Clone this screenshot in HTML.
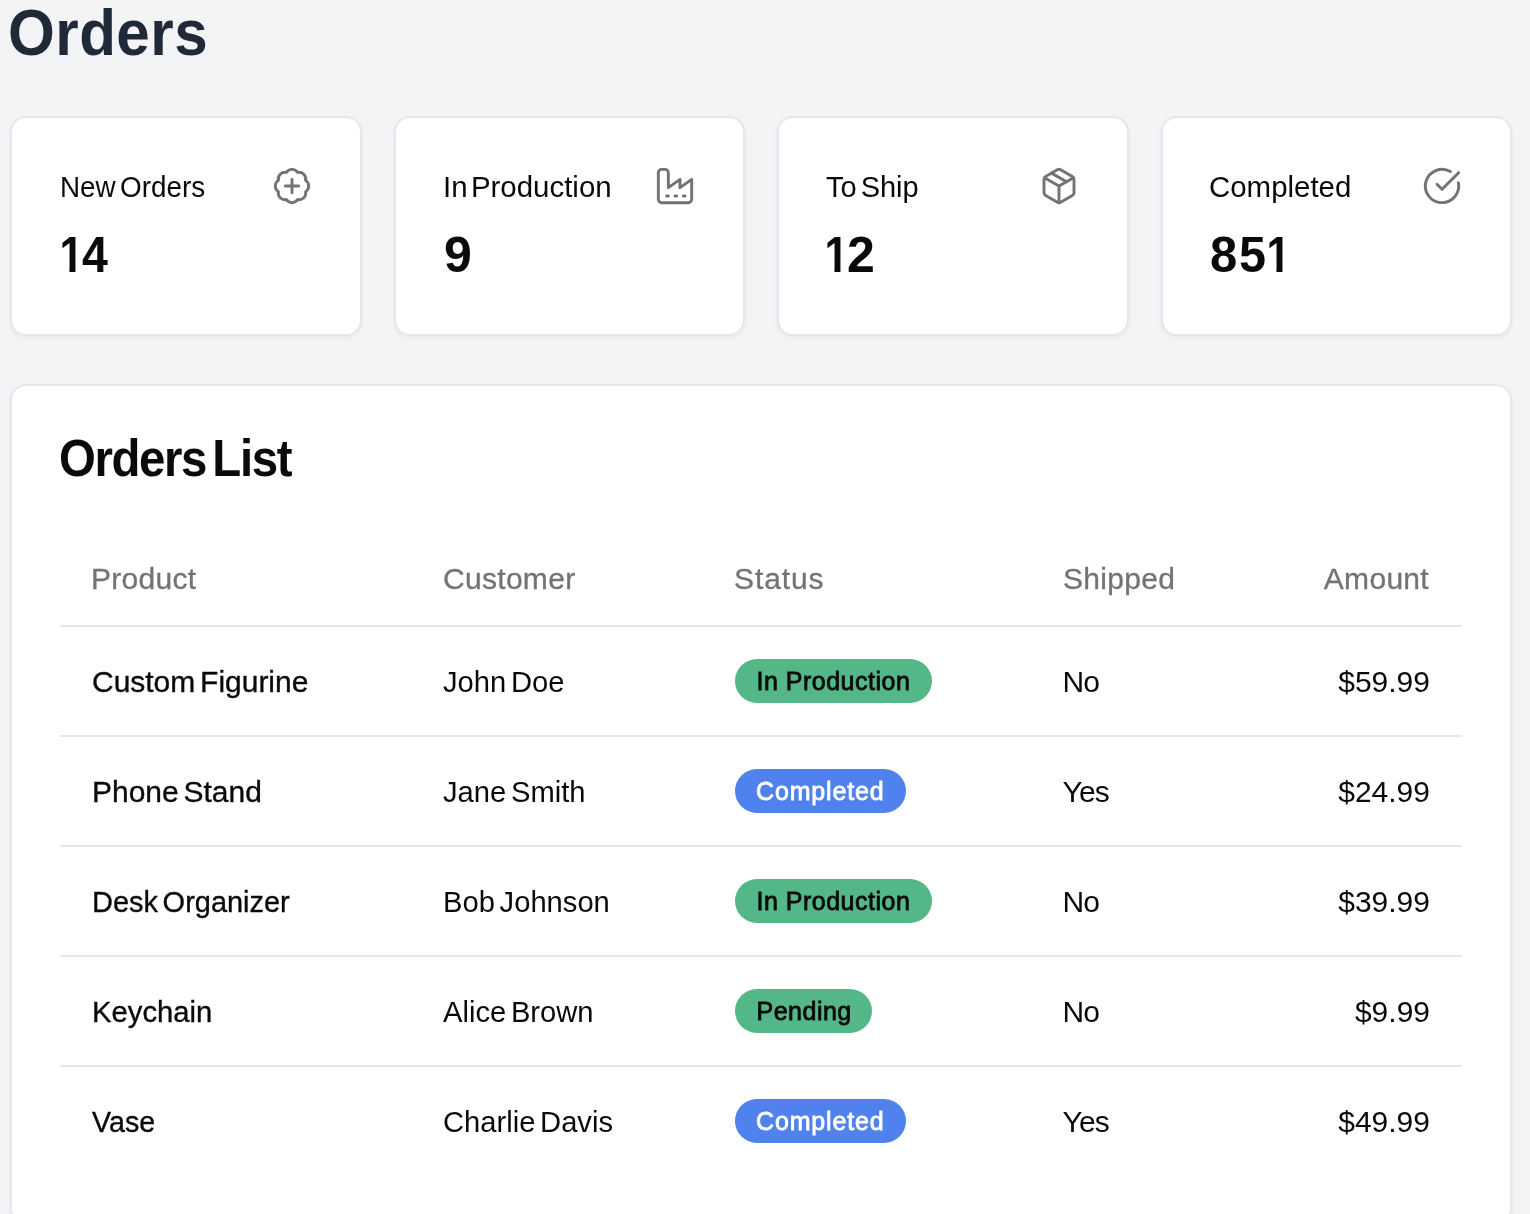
<!DOCTYPE html>
<html lang="en">
<head>
<meta charset="utf-8">
<title>Orders</title>
<style>
  html, body { margin: 0; padding: 0; }
  body {
    width: 1530px; height: 1214px; overflow: hidden;
    background: #f3f4f6;
    font-family: "Liberation Sans", Arial, sans-serif;
    color: #0a0a0a;
    position: relative;
  }
  h1 {
    position: absolute; left: 8.3px; top: -2.6px; margin: 0;
    font-size: 64px; line-height: 72px; font-weight: 700;
    color: #1f2937; letter-spacing: 0.5px; transform: scaleX(0.94); transform-origin: 0 0;
  }
  .stats { position: absolute; top: 116px; left: 0; width: 1530px; height: 220px; }
  .stat {
    position: absolute; top: 0; width: 347px; height: 216px;
    background: #fff; border: 2px solid #e5e7eb; border-radius: 16px;
    box-shadow: 0 2px 4px rgba(0,0,0,0.05);
    will-change: transform;
  }
  .stat .row { position: absolute; left: 48px; right: 48px; top: 48px; height: 40px; display: flex; align-items: center; justify-content: space-between; }
  .stat .label { font-size: 30px; line-height: 40px; letter-spacing: 0; color: #0a0a0a; position: relative; top: 0.5px; display: inline-block; transform-origin: 0 50%; white-space: nowrap; }
  .stat .icon { width: 40px; height: 40px; display: block; }
  .stat .num { position: absolute; left: 0; top: 0; width: 100%; height: 100%; font-weight: 700; color: #0a0a0a; }
  .stat .num span { position: absolute; top: 104.7px; font-size: 50px; line-height: 64px; transform-origin: 0 0; white-space: pre; }
  .stat .num span.one { clip-path: polygon(0 0, 100% 0, 100% 43.7px, 18.6px 43.7px, 18.6px 100%, 11.6px 100%, 11.6px 43.7px, 0 43.7px); transform: scaleX(0.86); transform-origin: 3.42px 0; }
  .list {
    position: absolute; left: 10px; top: 384px; width: 1498px; height: 836px;
    background: #fff; border: 2px solid #e5e7eb; border-radius: 16px;
    box-shadow: 0 2px 4px rgba(0,0,0,0.05);
    will-change: transform;
  }
  .list h2 {
    position: absolute; left: 47.3px; top: 40.1px; margin: 0;
    font-size: 51.5px; line-height: 64px; font-weight: 700; letter-spacing: -1.5px; word-spacing: -6px; color: #0a0a0a;
    transform: scaleX(0.92); transform-origin: 0 0;
  }
  table { position: absolute; left: 48px; top: 130px; width: 1402px; border-collapse: collapse; table-layout: fixed; }
  th { font-weight: 400; color: #737373; -webkit-text-stroke: 0.3px #737373; font-size: 30px; line-height: 40px; letter-spacing: 0.3px; text-align: left; padding: 0 32px 26px 31px; height: 110px; vertical-align: bottom; box-sizing: border-box; }
  td { font-size: 30px; line-height: 40px; padding: 2px 32px 0; height: 110px; border-top: 2px solid #e5e7eb; color: #0a0a0a; box-sizing: border-box; vertical-align: middle; }
  td .t { display: inline-block; transform-origin: 0 50%; white-space: nowrap; }
  td.p .t { transform: scaleX(0.975); -webkit-text-stroke: 0.35px #0a0a0a; word-spacing: -3.5px; }
  td.c .t { transform: scaleX(0.972); word-spacing: -3.5px; position: relative; left: -1px; }
  th.r, td.r { text-align: right; }
  tbody tr:last-child td { padding-top: 0; }
  td.s { letter-spacing: -0.8px; padding-left: 30.5px; }
  td.r { letter-spacing: 0; }
  .badge { display: inline-block; vertical-align: middle; height: 44px; line-height: 44px; padding: 0 0 0 21.5px; box-sizing: border-box; border-radius: 22px; font-size: 25px; font-weight: 400; letter-spacing: 0.5px; -webkit-text-stroke: 0.8px currentColor; position: relative; top: -1px; white-space: nowrap; }
  .w1 { width: 197px; } .w2 { width: 171px; padding-left: 21px; letter-spacing: 0.85px; } .w3 { width: 137px; }
  .g { background: #54b787; color: #0a0a0a; }
  .b { background: #4f82ed; color: #fff; }
</style>
</head>
<body>
  <h1>Orders</h1>
  <div class="stats">
    <div class="stat" style="left:10px;width:348px">
      <div class="row"><span class="label" style="transform:scaleX(0.928);word-spacing:-3.7px">New Orders</span>
        <svg class="icon" viewBox="0 0 24 24" fill="none" stroke="#737373" stroke-width="1.75" stroke-linecap="round" stroke-linejoin="round"><path d="M3.85 8.62a4 4 0 0 1 4.78-4.77 4 4 0 0 1 6.74 0 4 4 0 0 1 4.78 4.78 4 4 0 0 1 0 6.74 4 4 0 0 1-4.77 4.78 4 4 0 0 1-6.75 0 4 4 0 0 1-4.78-4.77 4 4 0 0 1 0-6.76Z"/><line x1="12" x2="12" y1="8" y2="16"/><line x1="8" x2="16" y1="12" y2="12"/></svg>
      </div>
      <div class="num"><span class="one" style="left:47px">1</span><span style="left:70.3px;transform:scaleX(0.93)">4</span></div>
          </div>
    <div class="stat" style="left:394px">
      <div class="row"><span class="label" style="transform:scaleX(0.981);word-spacing:-4.9px;left:-1.5px">In Production</span>
        <svg class="icon" viewBox="0 0 24 24" fill="none" stroke="#737373" stroke-width="1.75" stroke-linecap="round" stroke-linejoin="round"><path d="M2 20a2 2 0 0 0 2 2h16a2 2 0 0 0 2-2V8l-7 5V8l-7 5V4a2 2 0 0 0-2-2H4a2 2 0 0 0-2 2Z"/><path d="M17 18h1"/><path d="M12 18h1"/><path d="M7 18h1"/></svg>
      </div>
      <div class="num"><span style="left:48px">9</span></div>
          </div>
    <div class="stat" style="left:777px;width:348px">
      <div class="row"><span class="label" style="transform:scaleX(0.967);word-spacing:-4.2px;left:-1px">To Ship</span>
        <svg class="icon" viewBox="0 0 24 24" fill="none" stroke="#737373" stroke-width="1.75" stroke-linecap="round" stroke-linejoin="round"><path d="m7.5 4.27 9 5.15"/><path d="M21 8a2 2 0 0 0-1-1.73l-7-4a2 2 0 0 0-2 0l-7 4A2 2 0 0 0 3 8v8a2 2 0 0 0 1 1.73l7 4a2 2 0 0 0 2 0l7-4A2 2 0 0 0 21 16Z"/><path d="m3.3 7 8.7 5 8.7-5"/><path d="M12 22V12"/></svg>
      </div>
      <div class="num"><span class="one" style="left:45.3px">1</span><span style="left:67.9px">2</span></div>
          </div>
    <div class="stat" style="left:1161px;width:347px">
      <div class="row"><span class="label" style="transform:scaleX(0.981);left:-2px">Completed</span>
        <svg class="icon" viewBox="0 0 24 24" fill="none" stroke="#737373" stroke-width="1.75" stroke-linecap="round" stroke-linejoin="round"><path d="M21.801 10A10 10 0 1 1 17 3.335"/><path d="m9 11 3 3L22 4"/></svg>
      </div>
      <div class="num"><span style="left:47.3px;transform:scaleX(0.98)">8</span><span style="left:76.3px;transform:scaleX(0.97)">5</span><span class="one" style="left:102.6px">1</span></div>
          </div>
  </div>

  <div class="list">
    <h2>Orders List</h2>
    <table>
      <colgroup><col style="width:352px"><col style="width:291px"><col style="width:329px"><col style="width:200px"><col></colgroup>
      <thead>
        <tr><th>Product</th><th>Customer</th><th style="letter-spacing:0.9px">Status</th><th>Shipped</th><th class="r" style="padding-right:33px">Amount</th></tr>
      </thead>
      <tbody>
        <tr><td class="p"><span class="t" style="transform:scaleX(0.999)">Custom Figurine</span></td><td class="c"><span class="t">John Doe</span></td><td><span class="badge g w1">In Production</span></td><td class="s">No</td><td class="r">$59.99</td></tr>
        <tr><td class="p"><span class="t" style="transform:scaleX(0.999)">Phone Stand</span></td><td class="c"><span class="t">Jane Smith</span></td><td><span class="badge b w2">Completed</span></td><td class="s">Yes</td><td class="r">$24.99</td></tr>
        <tr><td class="p"><span class="t" style="transform:scaleX(0.965)">Desk Organizer</span></td><td class="c"><span class="t">Bob Johnson</span></td><td><span class="badge g w1">In Production</span></td><td class="s">No</td><td class="r">$39.99</td></tr>
        <tr><td class="p"><span class="t">Keychain</span></td><td class="c"><span class="t">Alice Brown</span></td><td><span class="badge g w3">Pending</span></td><td class="s">No</td><td class="r">$9.99</td></tr>
        <tr><td class="p"><span class="t" style="transform:scaleX(0.955)">Vase</span></td><td class="c"><span class="t">Charlie Davis</span></td><td><span class="badge b w2">Completed</span></td><td class="s">Yes</td><td class="r">$49.99</td></tr>
      </tbody>
    </table>
  </div>
</body>
</html>
